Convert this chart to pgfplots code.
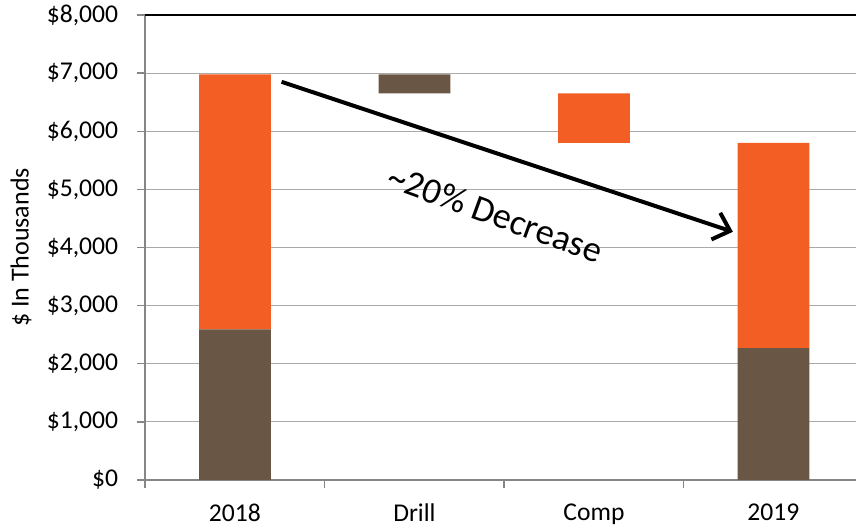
\documentclass[border=0pt]{standalone}
\usepackage{fontspec}
\setmainfont{Carlito}
\usepackage{pgfplots}
\usepackage{pgfplotstable}
\pgfplotsset{compat=1.18}
\usetikzlibrary{arrows.meta}

\definecolor{barorange}{RGB}{242,94,35}
\definecolor{barbrown}{RGB}{106,86,68}
\definecolor{gridgray}{RGB}{170,170,170}
\definecolor{axisgray}{RGB}{134,134,134}

% Waterfall: invisible base, then the drilling (brown) and completion (orange) parts
\pgfplotstableread{
x base drill comp
0 0    2590 4390
1 6650 330  0
2 5800 0    850
3 0    2270 3530
}\waterfall

\begin{document}
\begin{tikzpicture}
\begin{axis}[
  name=ax,
  scale only axis,
  width=355.4pt, height=232.5pt,
  xmin=-0.5, xmax=3.46,
  ymin=0, ymax=8000,
  ybar stacked, bar width=0.4,
  clip=false,
  axis x line*=bottom, axis y line*=left,
  axis line style={axisgray, line width=0.7pt},
  tick align=outside,
  xtick={0,1,2,3},
  xticklabels={2018,Drill,Comp,2019},
  major x tick style={draw=none},
  minor xtick={-0.5,0.5,1.5,2.5},
  minor tick length=4pt,
  minor x tick style={axisgray, line width=0.7pt},
  ytick={0,1000,...,8000},
  major tick length=4pt,
  ytick style={axisgray, line width=0.7pt},
  ymajorgrids,
  grid style={gridgray, line width=0.5pt},
  scaled y ticks=false,
  /pgf/number format/.cd, fixed, 1000 sep={,}, assume math mode=true,
  /pgfplots/.cd,
  yticklabel={\$\pgfmathprintnumber{\tick}},
  tick label style={font=\fontsize{12.8}{15}\selectfont, text=black},
  xticklabel style={yshift=-4.3pt},
  yticklabel style={xshift=-6pt},
  ylabel={\$ In Thousands},
  ylabel style={at={(axis description cs:-0.1745,0.5)}, anchor=center,
    font=\fontsize{13}{15}\selectfont},
]
\addplot[fill=none, draw=none] table[x=x, y=base] {\waterfall};
\addplot[fill=barbrown, draw=none] table[x=x, y=drill] {\waterfall};
\addplot[fill=barorange, draw=none] table[x=x, y=comp] {\waterfall};

\draw[black, line width=0.7pt] (axis cs:-0.5,8000) -- (axis cs:3.46,8000);
\draw[line width=2pt, -{Straight Barb[length=7.5pt,width=14pt]}]
  (axis cs:0.26,6850) -- (axis cs:2.774,4270);
\node[rotate=-20, font=\fontsize{18.2}{21}\selectfont]
  at (axis cs:1.452,4580) {\textasciitilde20\% Decrease};
\end{axis}
\pgfresetboundingbox
\path ([shift={(-72.6pt,-24.5pt)}]ax.south west) rectangle ([shift={(0pt,7.5pt)}]ax.north east);
\end{tikzpicture}
\end{document}
